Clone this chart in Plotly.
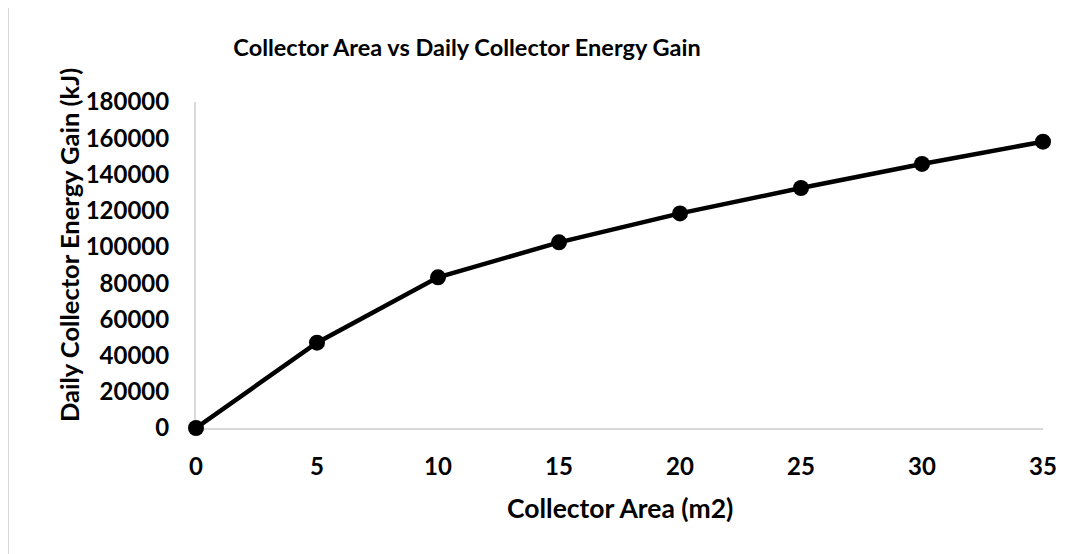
import plotly.graph_objects as go

# collector area (m2) vs daily collector energy gain (kJ)
collector_area = [0, 5, 10, 15, 20, 25, 30, 35]
energy_gain = [0, 47100, 83200, 102500, 118500, 132500, 145800, 158100]

x_ticks = [0, 5, 10, 15, 20, 25, 30, 35]
y_ticks = [0, 20000, 40000, 60000, 80000, 100000, 120000, 140000, 160000, 180000]

FONT = "Lato"
AXIS_GREY = "#d9d9d9"

fig = go.Figure()
fig.add_trace(
    go.Scatter(
        x=collector_area,
        y=energy_gain,
        mode="lines+markers",
        line=dict(color="black", width=4.5),
        marker=dict(color="black", size=16),
        cliponaxis=False,
        showlegend=False,
    )
)

# page body adds 8px offset, so margins are shifted by that
fig.update_layout(
    width=1084,
    height=554,
    paper_bgcolor="white",
    plot_bgcolor="white",
    margin=dict(l=188, r=49, t=94, b=134),
    font=dict(family=FONT, size=24, color="black"),
    title=dict(
        text="<b>Collector Area vs Daily Collector Energy Gain</b>",
        x=459 / 1084,
        xanchor="center",
        y=1 - 40 / 554,
        yanchor="middle",
        font=dict(family=FONT, size=23.5, color="black"),
    ),
    shapes=[
        dict(
            type="rect",
            xref="paper",
            yref="paper",
            x0=(8 - 196) / 847,
            x1=1.3,
            y0=-0.6,
            y1=(428 - 5) / 326,
            line=dict(color=AXIS_GREY, width=2),
            layer="below",
        )
    ],
    annotations=[
        dict(
            text="<b>Collector Area (m2)</b>",
            xref="paper",
            yref="paper",
            x=0.5,
            y=(428 - 508) / 326,
            xanchor="center",
            yanchor="middle",
            showarrow=False,
            font=dict(size=26.5),
        ),
        dict(
            text="<b>Daily Collector Energy Gain (kJ)</b>",
            xref="paper",
            yref="paper",
            x=(69 - 196) / 847,
            y=(428 - 245) / 326,
            xanchor="center",
            yanchor="middle",
            textangle=-90,
            showarrow=False,
            font=dict(size=25.5),
        ),
    ],
)

fig.update_xaxes(
    range=[0, 35],
    tickvals=x_ticks,
    ticktext=[f"<b>{v}</b>" for v in x_ticks],
    showgrid=False,
    zeroline=False,
    showline=True,
    linecolor=AXIS_GREY,
    linewidth=2,
    ticks="",
    ticklabelstandoff=16,
    layer="below traces",
)
fig.update_yaxes(
    range=[0, 180000],
    tickvals=y_ticks,
    ticktext=[f"<b>{v}</b>" for v in y_ticks],
    showgrid=False,
    zeroline=False,
    showline=True,
    linecolor=AXIS_GREY,
    linewidth=2,
    ticks="",
    ticklabelstandoff=20,
    layer="below traces",
)

fig.write_html("out.html")
